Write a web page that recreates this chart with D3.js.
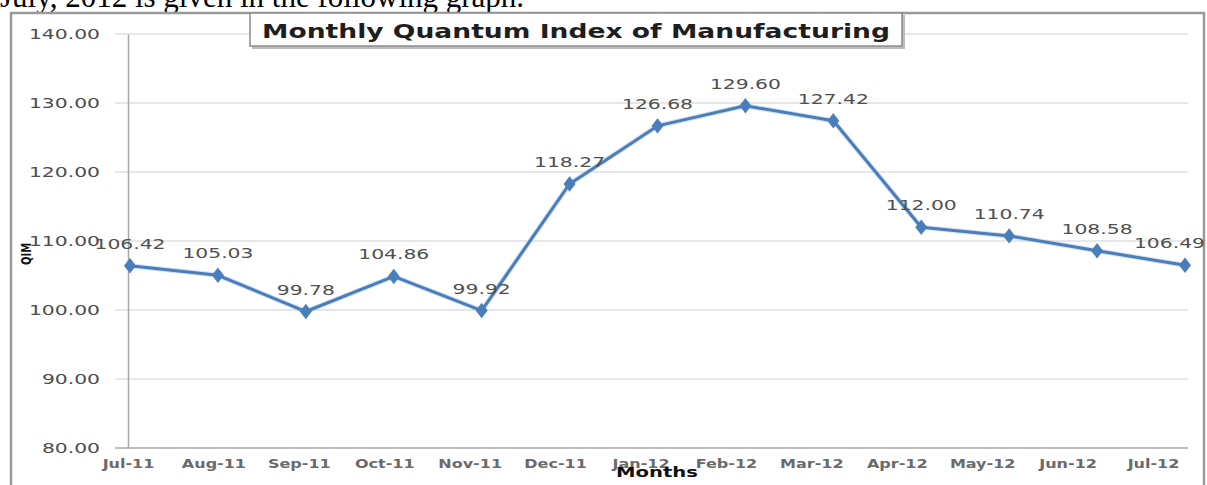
<!DOCTYPE html>
<html><head><meta charset="utf-8">
<script src="https://cdn.jsdelivr.net/npm/d3@7"></script>
<style>html,body{margin:0;padding:0;background:#fff;overflow:hidden}</style>
</head><body>
<svg id="c" width="1207" height="485"></svg>
<script>
const months = ["Jul-11","Aug-11","Sep-11","Oct-11","Nov-11","Dec-11","Jan-12","Feb-12","Mar-12","Apr-12","May-12","Jun-12","Jul-12"];
const qim = [106.42,105.03,99.78,104.86,99.92,118.27,126.68,129.60,127.42,112.00,110.74,108.58,106.49];
const yTicks = [80,90,100,110,120,130,140];
const titleText = "Monthly Quantum Index of Manufacturing";
const xTitle = "Months";
const yTitle = "QIM";
const pageText = "July, 2012 is given in the following  graph.";

const svg = d3.select("#c");
const SX = 1.45;
function stretch(sel, k){
  sel.each(function(){
    const L = this.getComputedTextLength();
    this.setAttribute("textLength", L*k);
    this.setAttribute("lengthAdjust","spacingAndGlyphs");
  });
}

// page text above chart
svg.append("text").attr("x",0).attr("y",7)
  .style("font-family","'Liberation Serif','Times New Roman',serif").style("font-size","31px").attr("fill","#000")
  .text(pageText);

// chart frame
svg.append("rect").attr("x",11).attr("y",13).attr("width",1193).attr("height",490)
  .attr("fill","#fff").attr("stroke","#9a9a9a").attr("stroke-width",2.5);

const y = d3.scaleLinear().domain([80,140]).range([448,34]);
const x = d3.scalePoint().domain(months).range([130,1185]);
const xLab = d3.scalePoint().domain(months).range([128,1153]);

// gridlines
svg.append("g").selectAll("line").data(yTicks).join("line")
  .attr("x1",115).attr("x2",1188).attr("y1",d=>y(d)).attr("y2",d=>y(d))
  .attr("stroke",d=>d===80?"#a8a8a8":"#d0d0d0").attr("stroke-width",d=>d===80?1.5:1.2);

// y axis
const yAxis = svg.append("g").attr("transform","translate(128,0)")
  .call(d3.axisLeft(y).tickValues(yTicks).tickSize(0).tickPadding(28).tickFormat(d3.format(".2f")));
yAxis.select(".domain").attr("stroke","#a8a8a8").attr("stroke-width",1.5);
yAxis.selectAll("text").style("font-family","'DejaVu Sans',sans-serif").style("font-size","14px").attr("fill","#4d4d4d");
stretch(yAxis.selectAll("text"), SX);

// x axis labels
const xAxis = svg.append("g").attr("transform","translate(0,448)")
  .call(d3.axisBottom(xLab).tickSize(0).tickPadding(20));
xAxis.select(".domain").remove();
xAxis.selectAll("text").attr("dy",0).style("font-family","'DejaVu Sans',sans-serif").style("font-size","12.5px").style("font-weight","bold").attr("fill","#6a6a6a");
stretch(xAxis.selectAll("text"), 1.28);

// axis titles
svg.append("text").attr("x",657).attr("y",477).attr("text-anchor","middle")
  .style("font-family","'DejaVu Sans',sans-serif").style("font-size","14px").style("font-weight","bold").attr("fill","#111")
  .text(xTitle).call(stretch,1.4);
svg.append("text").attr("transform","translate(31,254) scale(1.4,1) rotate(-90)").attr("text-anchor","middle")
  .style("font-family","'DejaVu Sans',sans-serif").style("font-size","10px").style("font-weight","bold").attr("fill","#111")
  .text(yTitle);

// line
const line = d3.line().x((d,i)=>x(months[i])).y(d=>y(d));
svg.append("path").datum(qim).attr("d",line).attr("fill","none")
  .attr("stroke","#a9c3e6").attr("stroke-width",5).attr("stroke-opacity",0.5);
svg.append("path").datum(qim).attr("d",line).attr("fill","none")
  .attr("stroke","#4a7ebb").attr("stroke-width",3).attr("stroke-linejoin","round");

// markers
svg.append("g").selectAll("path").data(qim).join("path")
  .attr("d",d3.symbol(d3.symbolDiamond,55))
  .attr("transform",(d,i)=>`translate(${x(months[i])},${y(d)}) scale(1.35,1)`)
  .attr("fill","#4a7ebb").attr("stroke","#4a7ebb").attr("stroke-width",0.8);

// data labels
const labs = svg.append("g").selectAll("text").data(qim).join("text")
  .attr("x",(d,i)=>x(months[i])).attr("y",d=>y(d)-17).attr("text-anchor","middle")
  .style("font-family","'DejaVu Sans',sans-serif").style("font-size","14px").attr("fill","#505050")
  .text(d=>d3.format(".2f")(d));
stretch(labs, SX);
labs.each(function(){
  const w = +this.getAttribute("textLength");
  const cx = +this.getAttribute("x");
  if (cx + w/2 > 1205) this.setAttribute("x", 1205 - w/2);
});

// title box
const tb = svg.append("g");
tb.append("rect").attr("x",252).attr("y",15).attr("width",653).attr("height",34).attr("fill","#bdbdbd");
tb.append("rect").attr("x",250).attr("y",13).attr("width",652).attr("height",33)
  .attr("fill","#fff").attr("stroke","#8c8c8c").attr("stroke-width",1.5);
tb.append("text").attr("x",576).attr("y",38).attr("text-anchor","middle")
  .style("font-family","'DejaVu Sans',sans-serif").style("font-size","19px").style("font-weight","bold").attr("fill","#1e1e1e")
  .text(titleText).each(function(){
    this.setAttribute("textLength",628); this.setAttribute("lengthAdjust","spacingAndGlyphs");
  });
</script>
</body></html>
